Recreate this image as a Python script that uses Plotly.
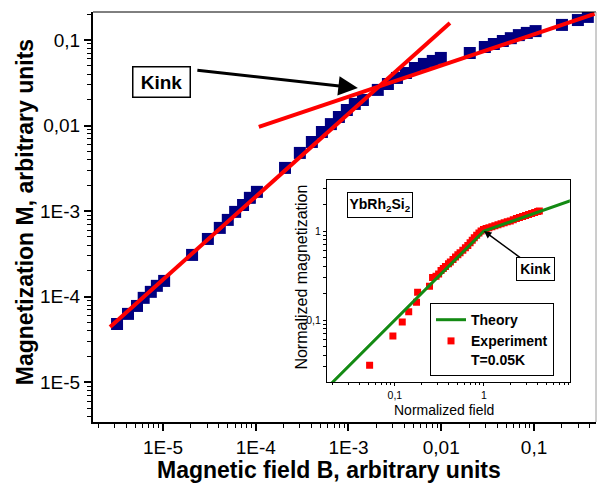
import plotly.graph_objects as go

# ---- main panel: magnetization vs field (log-log) ----
field_B = [3.2e-6, 4.2e-6, 5.25e-6, 6.2e-6, 7.4e-6, 8.6e-6, 1.03e-5, 2.06e-5, 3.05e-5,
           4.1e-5, 5.0e-5, 6.0e-5, 7.3e-5, 8.65e-5, 1.03e-4, 2.07e-4, 2.99e-4, 4.03e-4,
           5.17e-4, 6.46e-4, 7.88e-4, 9.6e-4, 1.17e-3, 1.43e-3, 2.07e-3, 2.66e-3, 3.33e-3,
           4.16e-3, 5.2e-3, 6.5e-3, 8.1e-3, 9.9e-3, 2.03e-2, 2.95e-2, 3.69e-2, 4.61e-2,
           5.62e-2, 6.86e-2, 8.36e-2, 0.104, 0.200, 0.297, 0.380]
mag_M = [4.8e-5, 6.3e-5, 7.8e-5, 9.7e-5, 1.14e-4, 1.34e-4, 1.53e-4, 3.08e-4, 4.73e-4,
         6.37e-4, 7.9e-4, 9.8e-4, 1.18e-3, 1.43e-3, 1.68e-3, 3.2e-3, 4.79e-3, 6.43e-3,
         8.41e-3, 1.04e-2, 1.26e-2, 1.52e-2, 1.79e-2, 1.99e-2, 2.61e-2, 3.06e-2, 3.6e-2,
         4.11e-2, 4.71e-2, 5.25e-2, 5.69e-2, 6.17e-2, 7.05e-2, 8.28e-2, 8.98e-2, 9.73e-2,
         0.105, 0.114, 0.121, 0.127, 0.150, 0.171, 0.186]

# straight-line fits below and above the kink
fit_low_B = [2.69e-6, 1.24e-2]
fit_low_M = [4.43e-5, 0.158]
fit_high_B = [1.08e-4, 0.45]
fit_high_M = [9.64e-3, 0.202]

main_tickvals = [1e-5, 1e-4, 1e-3, 1e-2, 1e-1]
main_x_ticktext = ["1E-5", "1E-4", "1E-3", "0,01", "0,1"]
main_y_ticktext = ["1E-5", "1E-4", "1E-3", "0,01", "0,1"]

# ---- inset: normalized data for YbRh2Si2 ----
theory_field = [0.01, 1.0, 10.0]
theory_mag = [0.01, 1.0, 2.24]

exp_field = [0.052, 0.095, 0.121, 0.143, 0.175, 0.18, 0.245, 0.265,
             0.29, 0.31, 0.33, 0.35, 0.37, 0.40, 0.42, 0.45, 0.48, 0.51, 0.54, 0.58,
             0.62, 0.66, 0.70, 0.74, 0.78, 0.83, 0.88, 0.93, 0.99, 1.06, 1.14, 1.23,
             1.33, 1.44, 1.56, 1.69, 1.83, 1.98, 2.14, 2.32, 2.51, 2.72, 2.94, 3.18,
             3.44, 3.72, 4.02, 4.2]
exp_mag = [0.031, 0.066, 0.095, 0.124, 0.158, 0.205, 0.24, 0.30,
           0.31, 0.33, 0.36, 0.38, 0.40, 0.43, 0.45, 0.48, 0.51, 0.54, 0.57, 0.61,
           0.65, 0.69, 0.74, 0.79, 0.84, 0.90, 0.95, 1.00, 1.04, 1.07, 1.09, 1.12,
           1.15, 1.18, 1.21, 1.24, 1.27, 1.30, 1.34, 1.38, 1.42, 1.46, 1.50, 1.54,
           1.58, 1.62, 1.66, 1.68]

inset_tickvals = [0.1, 1]
inset_ticktext = ["0,1", "1"]

FONT = "Arial, Liberation Sans, sans-serif"


def minor_ticks(lo_exp, hi_exp):
    vals = []
    for e in range(lo_exp, hi_exp + 1):
        for m in range(2, 10):
            vals.append(m * 10.0 ** e)
    return vals


fig = go.Figure()

fig.add_trace(go.Scatter(
    x=field_B, y=mag_M, mode="markers", xaxis="x", yaxis="y",
    marker=dict(symbol="square", size=12, color="#000080"),
    showlegend=False))
fig.add_trace(go.Scatter(
    x=fit_low_B, y=fit_low_M, mode="lines", xaxis="x", yaxis="y",
    line=dict(color="#ff0000", width=4), showlegend=False))
fig.add_trace(go.Scatter(
    x=fit_high_B, y=fit_high_M, mode="lines", xaxis="x", yaxis="y",
    line=dict(color="#ff0000", width=4), showlegend=False))

fig.add_trace(go.Scatter(
    x=exp_field, y=exp_mag, mode="markers", xaxis="x2", yaxis="y2",
    name="Experiment<br>T=0.05K", legendrank=2,
    marker=dict(symbol="square", size=7, color="#ff0000")))
fig.add_trace(go.Scatter(
    x=theory_field, y=theory_mag, mode="lines", xaxis="x2", yaxis="y2",
    name="Theory", legendrank=1,
    line=dict(color="#138a13", width=3)))

axis_common = dict(type="log", showline=True, linecolor="black", ticks="outside",
                   tickcolor="black", showgrid=False, zeroline=False,
                   tickmode="array")

fig.update_layout(
    width=597, height=486,
    margin=dict(l=93, r=1, t=12, b=64),
    paper_bgcolor="white", plot_bgcolor="white",
    font=dict(family=FONT, color="black"),
    xaxis=dict(axis_common, domain=[0, 1], range=[-5.754, -0.332],
               linewidth=2, ticklen=7, tickwidth=1.5,
               tickvals=main_tickvals, ticktext=main_x_ticktext,
               tickfont=dict(size=19),
               minor=dict(tickvals=minor_ticks(-6, -1), ticklen=4, tickwidth=1,
                          ticks="outside", tickcolor="black")),
    yaxis=dict(axis_common, domain=[0, 1], range=[-5.464, -0.673],
               linewidth=2, ticklen=7, tickwidth=1.5,
               tickvals=main_tickvals, ticktext=main_y_ticktext,
               tickfont=dict(size=19),
               minor=dict(tickvals=minor_ticks(-6, -1), ticklen=4, tickwidth=1,
                          ticks="outside", tickcolor="black")),
    xaxis2=dict(axis_common, domain=[0.465, 0.948], anchor="y2",
                range=[-1.764, 0.966], linewidth=1, mirror=True,
                ticklen=3, tickwidth=1,
                tickvals=inset_tickvals, ticktext=inset_ticktext,
                tickfont=dict(size=10.5),
                minor=dict(tickvals=minor_ticks(-2, 0), ticklen=2.5, tickwidth=1,
                           ticks="outside", tickcolor="black")),
    yaxis2=dict(axis_common, domain=[0.0976, 0.590], anchor="x2",
                range=[-1.697, 0.573], linewidth=1, mirror=True,
                ticklen=3, tickwidth=1,
                tickvals=inset_tickvals, ticktext=inset_ticktext,
                tickfont=dict(size=10.5),
                minor=dict(tickvals=minor_ticks(-2, 0), ticklen=2.5, tickwidth=1,
                           ticks="outside", tickcolor="black")),
    legend=dict(x=0.670, y=0.290, xanchor="left", yanchor="top",
                bgcolor="white", bordercolor="black", borderwidth=1,
                font=dict(size=14, family=FONT, weight="bold"),
                valign="top", tracegroupgap=0, itemwidth=30),
    showlegend=True,
)

# frame: thin top edge and grey right edge of the main panel
fig.add_shape(type="line", xref="paper", yref="paper", x0=0, x1=1, y0=1, y1=1,
              line=dict(color="black", width=1))
fig.add_shape(type="line", xref="paper", yref="paper", x0=1, x1=1, y0=0, y1=1,
              line=dict(color="#9a9a9a", width=1))

centered = dict(xref="paper", yref="paper", xanchor="center", yanchor="middle",
                showarrow=False)

# axis titles
fig.add_annotation(centered, text="<b>Magnetic field B, arbitrary units</b>",
                   x=0.469, y=-0.117, font=dict(size=23))
fig.add_annotation(centered, text="<b>Magnetization M, arbitrary units</b>",
                   x=-0.135, y=0.512, textangle=-90, font=dict(size=23))
fig.add_annotation(centered, text="Normalized field",
                   x=0.697, y=0.029, font=dict(size=14))
fig.add_annotation(centered, text="Normalized magnetization",
                   x=0.415, y=0.354, textangle=-90, font=dict(size=16))

# kink label of the main panel with its arrow
fig.add_annotation(centered, text="<b>Kink</b>", x=0.137, y=0.829,
                   font=dict(size=19), width=54, height=27,
                   bordercolor="black", borderwidth=1.5, borderpad=1, bgcolor="white")
fig.add_annotation(text="", xref="x", yref="y", x=-2.899, y=-1.561,
                   ax=-162, ay=-18, showarrow=True, arrowhead=2, arrowsize=1.3,
                   arrowwidth=3, arrowcolor="black")

# inset labels
fig.add_annotation(centered, text="<b>YbRh<sub>2</sub>Si<sub>2</sub></b>",
                   x=0.5706, y=0.5293, font=dict(size=14),
                   width=62, height=22, bordercolor="black", borderwidth=1,
                   borderpad=1, bgcolor="white")
fig.add_annotation(text="<b>Kink</b>", xref="x2", yref="y2", x=0.0, y=0.0,
                   ax=52, ay=38, showarrow=True, arrowhead=2, arrowsize=1,
                   arrowwidth=1.5, arrowcolor="black", font=dict(size=14),
                   width=35, height=20, bordercolor="black", borderwidth=1,
                   borderpad=1, bgcolor="white")

fig.write_html("out.html")
